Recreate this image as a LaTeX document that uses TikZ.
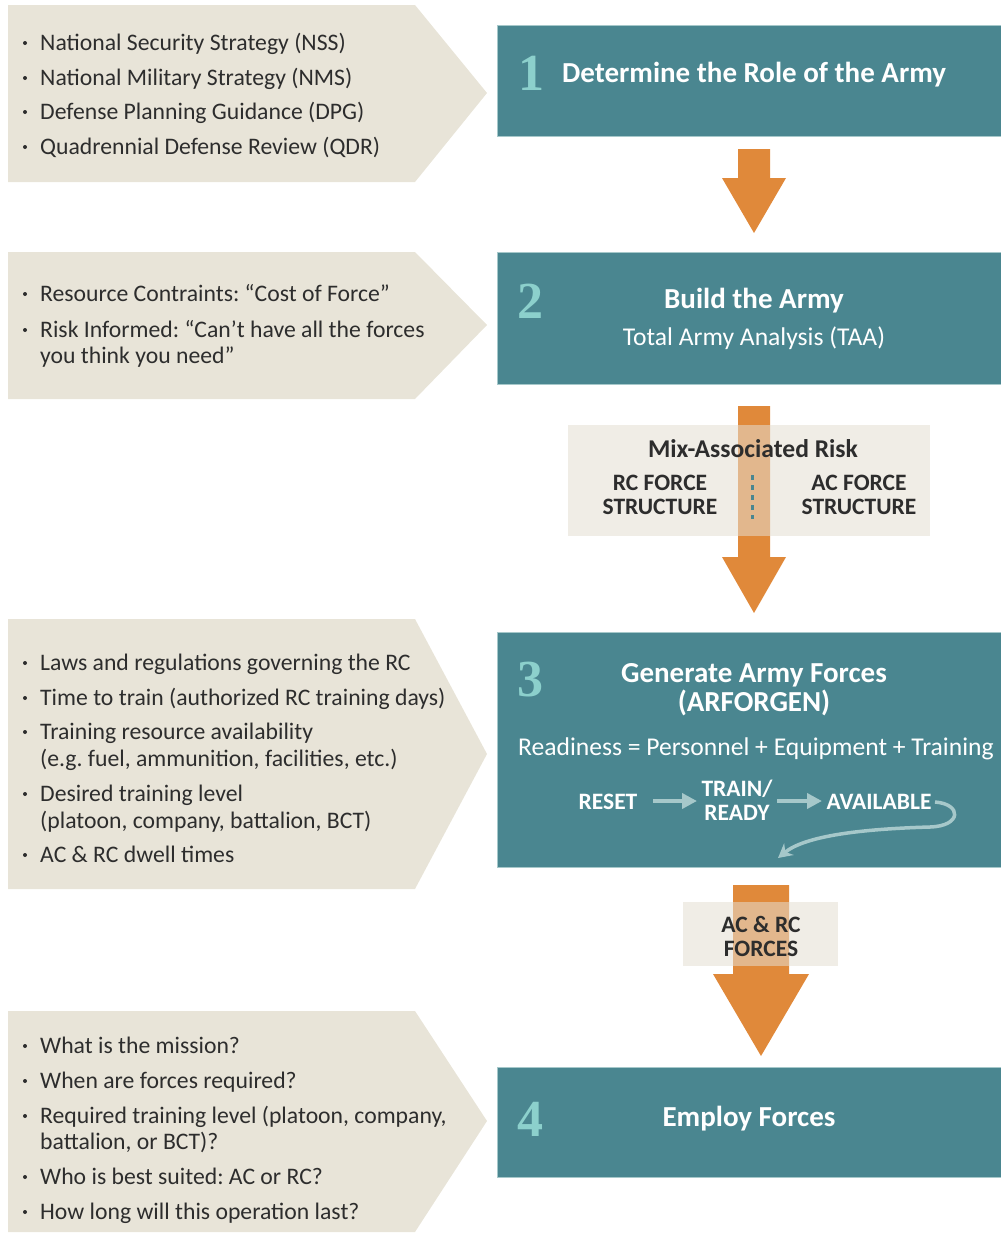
\documentclass[tikz,border=0pt]{standalone}
\usepackage{fontspec}
\setmainfont{Carlito}
\newfontfamily\numfont{Liberation Serif}
\usetikzlibrary{positioning,arrows.meta}
\definecolor{boxteal}{RGB}{74,134,144}
\definecolor{chevron}{RGB}{232,228,216}
\definecolor{flow}{RGB}{224,137,58}
\definecolor{numteal}{RGB}{140,208,204}
\definecolor{cycle}{RGB}{166,200,202}
\definecolor{paleband}{RGB}{228,222,210}
\definecolor{ink}{RGB}{45,45,45}
\frenchspacing
\newcommand{\listfont}{\fontsize{23.7}{27}\selectfont}
\newcommand{\titlefont}{\bfseries\fontsize{29}{30}\selectfont}
\newcommand{\subfont}{\fontsize{25.6}{28}\selectfont}
\newcommand{\capsfont}{\fontsize{23.5}{24}\selectfont}
% left chevron: top, bottom, middle
\newcommand{\inputbox}[3]{%
  \fill[chevron] (8,#1) -- (415,#1) -- (487,#3) -- (415,#2) -- (8,#2) -- cycle;}
% orange arrow: x, top, head, tip, half shaft, half head
\newcommand{\flowarrow}[6]{%
  \fill[flow] (#1-#5,#2) -- (#1+#5,#2) -- (#1+#5,#3) -- (#1+#6,#3)
    -- (#1,#4) -- (#1-#6,#3) -- (#1-#5,#3) -- cycle;}

\begin{document}
\begin{tikzpicture}[x=1pt,y=-1pt,
    stage/.style={fill=boxteal,draw=cycle,line width=0.6,anchor=north west,inner sep=0pt},
    band/.style={fill=paleband,fill opacity=0.55,inner sep=0pt,anchor=north west},
    listtext/.style={anchor=base west,inner sep=0pt,text=ink,font=\listfont},
    title/.style={anchor=base,inner sep=0pt,text=white,font=\titlefont},
    number/.style={anchor=base west,inner sep=0pt,text=numteal,font=\numfont\bfseries\fontsize{52}{52}\selectfont},
    caps/.style={anchor=base,inner sep=0pt,font=\capsfont\bfseries},
    cycarrow/.style={draw=cycle,line width=4.5,-{Triangle[width=15,length=15]}}]

\useasboundingbox (0,0) rectangle (1001,1234);

% Eingaben links
\inputbox{5}{182}{93}
\inputbox{252}{399}{325}
\inputbox{619}{889}{754}
\inputbox{1011}{1232}{1121}

\foreach \y/\t in {50/National Security Strategy (NSS),85/National Military Strategy (NMS),
    119/Defense Planning Guidance (DPG),154/Quadrennial Defense Review (QDR),
    301/Resource Contraints: “Cost of Force”,337/Risk Informed: “Can’t have all the forces,
    670/Laws and regulations governing the RC,705/Time to train (authorized RC training days),
    739/Training resource availability,801/Desired training level,862/AC \& RC dwell times,
    1053/What is the mission?,1088/When are forces required?,
    1123/{Required training level (platoon, company,},1184/Who is best suited: AC or RC?,
    1219/How long will this operation last?}{
  \fill[ink] (25,\y-7) circle (2);
  \node[listtext] at (40,\y) {\t};
}
% Folgezeilen
\foreach \y/\t in {363/you think you need”,766/{(e.g. fuel, ammunition, facilities, etc.)},
    828/{(platoon, company, battalion, BCT)},1149/{battalion, or BCT)?}}
  \node[listtext] at (40,\y) {\t};

% Stufen
\node[stage,minimum width=513,minimum height=111] (s1) at (497,25) {};
\node[stage,minimum width=513,minimum height=132] (s2) at (497,252) {};
\node[stage,minimum width=513,minimum height=235] (s3) at (497,632) {};
\node[stage,minimum width=513,minimum height=110] (s4) at (497,1067) {};

\node[number] (n1) at (518,90) {1};
\node[title,anchor=base west] (t1) at (562,82) {Determine the Role of the Army};

\node[number] (n2) at (517,318) {2};
\node[title] (t2) at (754,308) {Build the Army};
\node[anchor=base,inner sep=0pt,text=white,font=\subfont] (taa) at (754,345) {Total Army Analysis (TAA)};

\node[number] (n3) at (517,696) {3};
\node[title] (t3) at (754,682) {Generate Army Forces};
\node[title] (t3b) at (754,711) {(ARFORGEN)};
\node[anchor=base west,inner sep=0pt,text=white,font=\subfont] (ready) at (518,755)
  {Readiness = Personnel + Equipment + Training};

\node[caps,text=white] (reset) at (608,809) {RESET};
\node[caps,text=white,align=center] (train) at (737,820) {TRAIN/\\READY};
\node[caps,text=white] (avail) at (879,809) {AVAILABLE};
\coordinate (back) at (778,858);
\draw[cycarrow] (653,801) -- (697,801);
\draw[cycarrow] (777,801) -- (822,801);
\draw[draw=cycle,line width=3.5,-{Stealth[width=15,length=14]}]
  (935,802) .. controls (962,804) and (962,826) .. (930,827)
  .. controls (860,829) and (805,836) .. (back);

\node[number] (n4) at (517,1136) {4};
\node[title] (t4) at (749,1126) {Employ Forces};

% Pfeile
\flowarrow{754}{149}{178}{233}{16}{32}
\flowarrow{754}{406}{557}{613}{16}{32}
\flowarrow{761}{885}{974}{1056}{28}{48}

\node[band,minimum width=362,minimum height=111] (mix) at (568,425) {};
\node[band,minimum width=155,minimum height=64] (forces) at (683,902) {};
\draw[boxteal,line width=3,dash pattern=on 5 off 5] (752,475) -- (752,519);

\node[anchor=base,inner sep=0pt,text=ink,font=\subfont\bfseries] (risk) at (753,457) {Mix-Associated Risk};
\node[caps,text=ink,align=center] (rc) at (660,514) {RC FORCE\\STRUCTURE};
\node[caps,text=ink,align=center] (ac) at (859,514) {AC FORCE\\STRUCTURE};
\node[caps,text=ink,align=center] (acrc) at (761,956) {AC \& RC\\FORCES};

\end{tikzpicture}
\end{document}
